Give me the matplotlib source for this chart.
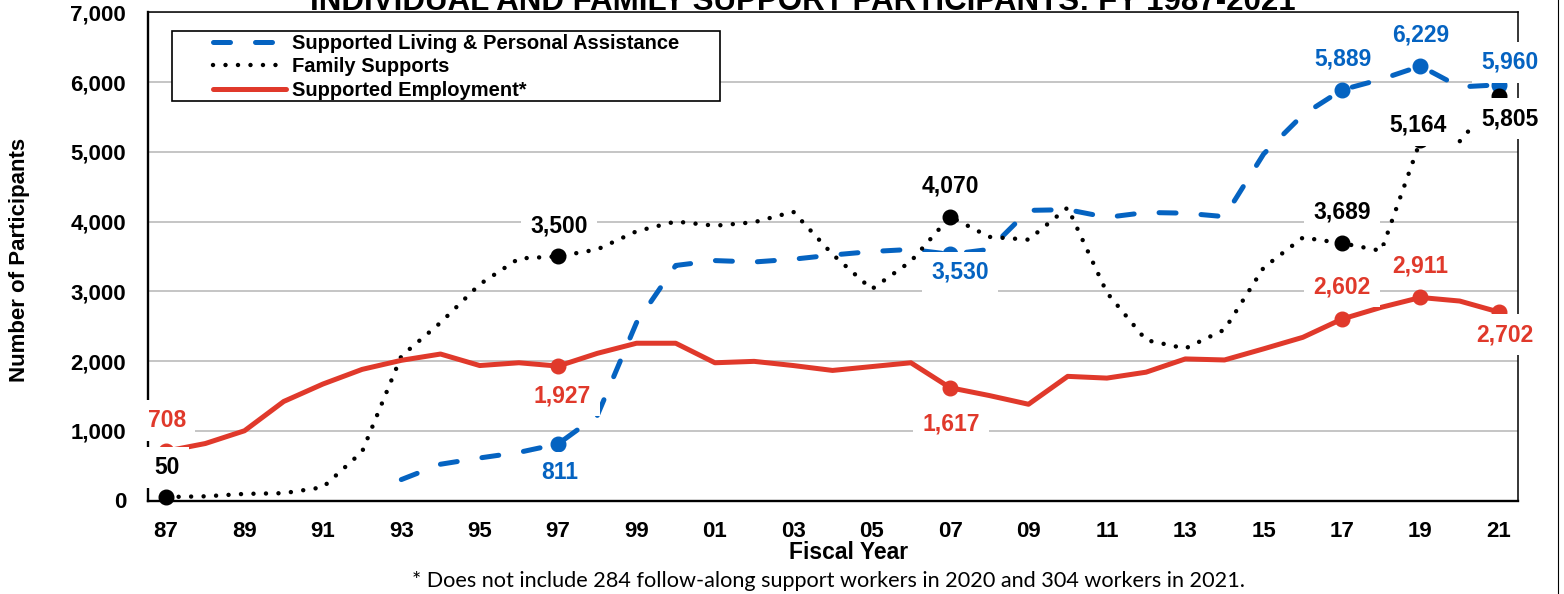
import numpy as np
import matplotlib
matplotlib.use('Agg')
from matplotlib import pyplot as plt
from matplotlib.patches import Rectangle
from matplotlib.lines import Line2D
from matplotlib.ticker import FuncFormatter

plt.rcParams['font.family'] = ['Liberation Sans', 'DejaVu Sans']
plt.rcParams['font.weight'] = 'bold'

nan = np.nan
years = list(range(1987, 2022))

living = [nan, nan, nan, nan, nan, nan,
          300, 520, 610, 690, 811, 1220, 2550, 3370, 3440, 3420, 3460, 3520,
          3570, 3600, 3530, 3600, 4160, 4170, 4060, 4130, 4120, 4070, 4970,
          5530, 5889, 6040, 6229, 5930, 5960]
family = [50, 60, 95, 105, 190, 700, 2070, 2550, 3100, 3470, 3500, 3600,
          3860, 4000, 3940, 3990, 4140, 3530, 3030, 3430, 4070, 3780, 3740,
          4200, 2980, 2300, 2180, 2450, 3340, 3770, 3689, 3580, 5164, 5150,
          5805]
employ = [708, 817, 1000, 1420, 1670, 1880, 2010, 2100, 1935, 1975, 1927,
          2110, 2255, 2255, 1975, 1995, 1935, 1865, 1920, 1975, 1617, 1505,
          1380, 1780, 1755, 1840, 2030, 2015, 2175, 2340, 2602, 2770, 2911,
          2860, 2702]

series_names = ['Supported Living & Personal Assistance', 'Family Supports',
                'Supported Employment*']
living_marks = [1997, 2007, 2017, 2019, 2021]
family_marks = [1987, 1997, 2007, 2017, 2019, 2021]
employ_marks = [1987, 1997, 2007, 2017, 2019, 2021]

BLUE = '#0563C1'
RED = '#E0392B'

W, H = 1564, 594
fig = plt.figure(figsize=(W / 100, H / 100), dpi=100)
ax = fig.add_axes([147.7 / W, 1 - 500.5 / H, 1370 / W, 488.2 / H])

l1, = ax.plot(years, living, color=BLUE, lw=3.6, dashes=(3.4, 5.0),
              dash_capstyle='round', zorder=3)
l2, = ax.plot(years, family, color='black', lw=3.2, dashes=(0.01, 2.8),
              dash_capstyle='round', zorder=3)
l3, = ax.plot(years, employ, color=RED, lw=3.6, solid_capstyle='round',
              zorder=3)

# label offsets in pixels (dx, dy of text centre from the marker)
label_offsets = {
    'living': [(2, -27), (10, -16.4), (0.5, 32), (0, 32.8), (11, 24)],
    'family': [(1, 31), (1, 32), (0.5, 32.4), (0, 33), (-2.5, 17),
               (11.5, -21.4)],
    'employ': [(1, 32), (4, -28), (1, -35), (0, 34), (0, 32.5), (6, -21.2)],
}

for vals, marks, color, key in [(living, living_marks, BLUE, 'living'),
                                (family, family_marks, 'black', 'family'),
                                (employ, employ_marks, RED, 'employ')]:
    ys = [vals[years.index(y)] for y in marks]
    ax.plot(marks, ys, 'o', color=color, ms=10.5, zorder=4, clip_on=False)
    for x, y, (dx, dy) in zip(marks, ys, label_offsets[key]):
        ax.annotate(f'{y:,}', (x, y), xytext=(dx / 1.389, (dy - 8) / 1.389),
                    textcoords='offset points', ha='center', va='baseline',
                    fontsize=16.5, fontweight='bold', color=color, zorder=6,
                    annotation_clip=False,
                    bbox=dict(boxstyle='square,pad=0.4', fc='white',
                              ec='none'))

ax.set_xlim(1986.53, 2021.48)
ax.set_ylim(0, 7000)
ax.set_xticks(range(1987, 2022, 2))
ax.set_xticklabels([f'{y % 100:02d}' for y in range(1987, 2022, 2)])
ax.set_yticks(range(0, 7001, 1000))
ax.yaxis.set_major_formatter(FuncFormatter(lambda v, p: f'{int(v):,}'))
ax.tick_params(axis='both', length=0, labelsize=16)
ax.tick_params(axis='x', pad=14.5)
ax.tick_params(axis='y', pad=15.6)

ax.yaxis.grid(True, color='#c0c0c0', lw=1.3)
ax.set_axisbelow(True)
for side in ['left', 'bottom']:
    ax.spines[side].set_linewidth(1.7)
for side in ['top', 'right']:
    ax.spines[side].set_linewidth(1.1)

ax.add_patch(Rectangle((172 / W, 1 - 101 / H), 548 / W, 70.3 / H,
                       transform=fig.transFigure, fc='white', ec='black',
                       lw=1.2, zorder=4.5, clip_on=False))
ax.legend([l1, l2, l3], series_names, loc='upper left',
          bbox_to_anchor=(213 / W, 1 - 34 / H), bbox_transform=fig.transFigure,
          frameon=False, fontsize=14.5, handlelength=3.6, handletextpad=0.3,
          labelspacing=0.22, borderpad=0, borderaxespad=0)

fig.text(803 / W, 1 - 9.5 / H,
         'INDIVIDUAL AND FAMILY SUPPORT PARTICIPANTS: FY 1987-2021',
         ha='center', va='baseline', fontsize=22.5, fontweight='bold')
fig.text(19.2 / W, 1 - 260 / H, 'Number of Participants', rotation=90,
         ha='center', va='center', fontsize=16)
fig.text(849 / W, 1 - 559.3 / H, 'Fiscal Year', ha='center', va='baseline',
         fontsize=16.5)
fig.text(828 / W, 1 - 586.7 / H,
         '* Does not include 284 follow-along support workers in 2020 and '
         '304 workers in 2021.',
         ha='center', va='baseline', fontsize=15.6, fontweight='normal',
         family=['Lato', 'DejaVu Sans'])
fig.add_artist(Line2D([1557.5 / W] * 2, [0, 1], color='black', lw=0.8))

fig.savefig('out.png', dpi=100)
